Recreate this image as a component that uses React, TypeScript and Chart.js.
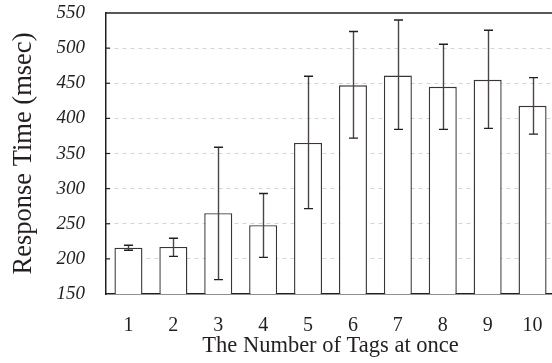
import React, { useEffect, useRef } from "react";
import { Chart, registerables } from "chart.js";

Chart.register(...registerables);

const categories = ["1", "2", "3", "4", "5", "6", "7", "8", "9", "10"];
const meanValues = [216, 217, 265, 248, 365, 447, 461, 445, 455, 418];
const upperValues = [219.3, 229.3, 359, 293, 460, 523.6, 540, 505.5, 525.4, 458];
const lowerValues = [212.2, 203.6, 170.4, 202.2, 271.6, 371.9, 384.3, 384.3, 385.7, 377.6];
const yMin = 150;
const yMax = 550;
const yStep = 50;

const SERIF = '"Liberation Serif", "Times New Roman", serif';
const DARK = "#231f20";

const decorPlugin = {
  id: "decor",
  afterDatasetsDraw(chart: any) {
    const { ctx, chartArea, scales } = chart;
    const y = scales.y;
    const meta = chart.getDatasetMeta(0);
    ctx.save();
    ctx.lineWidth = 1.4;
    meta.data.forEach((bar: any, i: number) => {
      const x = Math.round(bar.x) + 0.5;
      const yt = y.getPixelForValue(upperValues[i]);
      const yb = y.getPixelForValue(lowerValues[i]);
      ctx.strokeStyle = "#4a4445";
      ctx.beginPath();
      ctx.moveTo(x, yt);
      ctx.lineTo(x, yb);
      ctx.stroke();
      ctx.strokeStyle = DARK;
      ctx.beginPath();
      ctx.moveTo(x - 4.5, yt);
      ctx.lineTo(x + 4.5, yt);
      ctx.moveTo(x - 4.5, yb);
      ctx.lineTo(x + 4.5, yb);
      ctx.stroke();
    });
    ctx.strokeStyle = DARK;
    ctx.lineWidth = 1.5;
    ctx.beginPath();
    ctx.moveTo(chartArea.left, chartArea.top);
    ctx.lineTo(chartArea.right + 2, chartArea.top);
    ctx.stroke();
    ctx.lineWidth = 1.2;
    for (let v = yMin + yStep; v <= yMax - yStep; v += yStep) {
      const py = y.getPixelForValue(v);
      ctx.beginPath();
      ctx.moveTo(chartArea.left, py);
      ctx.lineTo(chartArea.left + 4, py);
      ctx.stroke();
    }
    ctx.restore();
  },
};

export default function App() {
  const canvasRef = useRef<HTMLCanvasElement | null>(null);

  useEffect(() => {
    if (!canvasRef.current) return;
    const chart = new Chart(canvasRef.current, {
      type: "bar",
      data: {
        labels: categories,
        datasets: [
          {
            data: meanValues,
            backgroundColor: "#ffffff",
            borderColor: "#3a3435",
            borderWidth: 1.4,
            barPercentage: 0.624,
            categoryPercentage: 1,
          },
        ],
      },
      options: {
        animation: false,
        responsive: false,
        layout: { padding: { top: 13, left: 0, right: 0, bottom: 0 } },
        plugins: {
          legend: { display: false },
          tooltip: { enabled: false },
        },
        scales: {
          x: {
            grid: { display: false, drawTicks: false },
            border: { display: true, color: DARK, width: 1.5 },
            ticks: {
              color: DARK,
              padding: 20,
              font: { family: SERIF, size: 20 },
            },
            title: {
              display: true,
              text: "The Number of Tags at once",
              color: DARK,
              font: { family: SERIF, size: 22.5, lineHeight: 1.2 },
              padding: { top: 0, bottom: 3 },
            },
            afterFit(scale: any) {
              scale.height = 69;
              scale.paddingLeft = 0;
              scale.paddingRight = 0;
            },
          },
          y: {
            min: yMin,
            max: yMax,
            grid: {
              drawTicks: false,
              color: (c: any) =>
                c.tick && (c.tick.value === yMin || c.tick.value === yMax)
                  ? "rgba(0,0,0,0)"
                  : "#d4d4d4",
              lineWidth: 1,
            },
            border: { display: true, color: DARK, width: 1.5, dash: [4, 4] },
            ticks: {
              stepSize: yStep,
              color: DARK,
              padding: 21,
              font: { family: SERIF, size: 19, style: "italic" },
            },
            title: {
              display: true,
              text: "Response Time (msec)",
              color: DARK,
              font: { family: SERIF, size: 26.5, lineHeight: 1.2 },
              padding: { top: 8, bottom: 0 },
            },
            afterFit(scale: any) {
              scale.width = 106;
              scale.paddingTop = 0;
              scale.paddingBottom = 0;
            },
          },
        },
      },
      plugins: [decorPlugin],
    });
    return () => chart.destroy();
  }, []);

  return (
    <div style={{ position: "absolute", left: 0, top: 0, width: 555, height: 363 }}>
      <canvas ref={canvasRef} width={555} height={363} style={{ width: 555, height: 363 }} />
    </div>
  );
}
